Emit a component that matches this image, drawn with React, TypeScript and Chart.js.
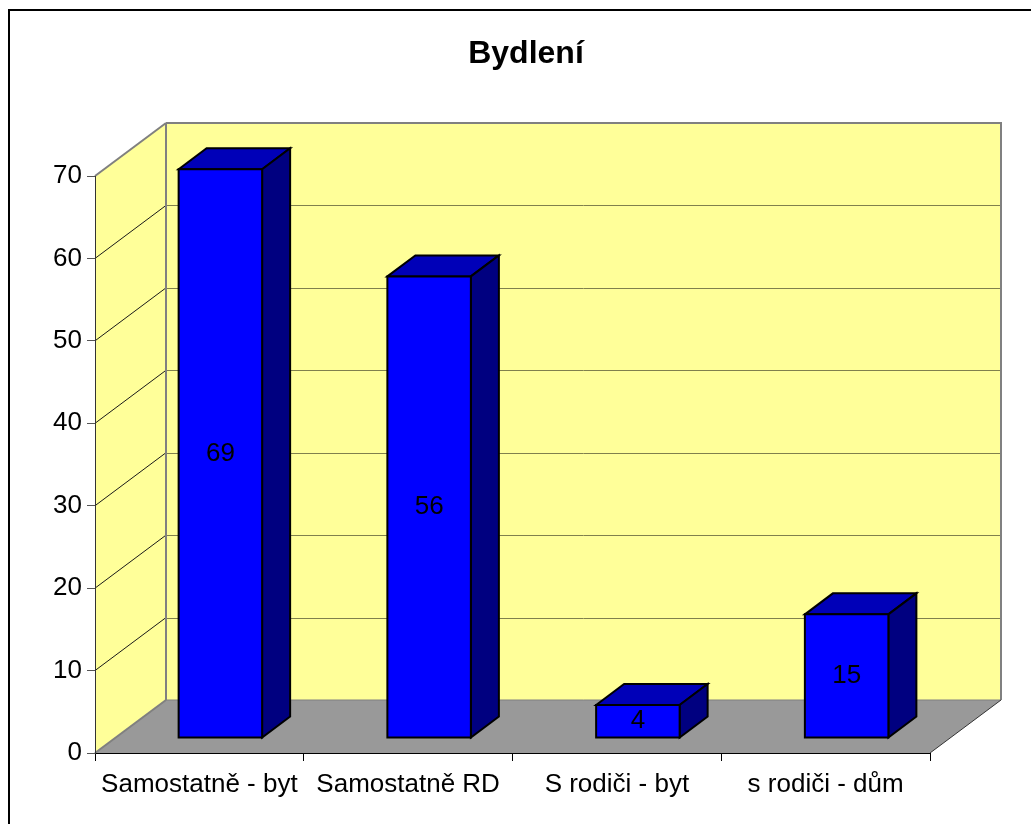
import React, { useEffect, useRef } from 'react';
import { Chart, registerables } from 'chart.js';

Chart.register(...registerables);

const chartTitle = 'Bydlení';
const categories = ['Samostatně - byt', 'Samostatně RD', 'S rodiči - byt', 's rodiči - dům'];
const values = [69, 56, 4, 15];
const yMin = 0;
const yMax = 70;
const yStep = 10;

const FONT = '"Liberation Sans", Arial, sans-serif';
const WALL = '#FFFF99';
const FLOOR = '#999999';
const DX = 71;
const DY = 53;
const BFX = 21;
const BFY = 15;
const BDX = 28;
const BDY = 21;

type P = [number, number];

function poly(ctx: CanvasRenderingContext2D, pts: P[], fill: string | null, stroke?: string, lw = 1) {
  ctx.beginPath();
  ctx.moveTo(pts[0][0], pts[0][1]);
  for (let i = 1; i < pts.length; i++) ctx.lineTo(pts[i][0], pts[i][1]);
  ctx.closePath();
  if (fill) {
    ctx.fillStyle = fill;
    ctx.fill();
  }
  if (stroke) {
    ctx.strokeStyle = stroke;
    ctx.lineWidth = lw;
    ctx.lineJoin = 'miter';
    ctx.stroke();
  }
}

function seg(ctx: CanvasRenderingContext2D, x1: number, y1: number, x2: number, y2: number, color: string, lw = 1) {
  ctx.beginPath();
  ctx.moveTo(x1, y1);
  ctx.lineTo(x2, y2);
  ctx.strokeStyle = color;
  ctx.lineWidth = lw;
  ctx.stroke();
}

const scene3d = {
  id: 'scene3d',
  beforeDraw(chart: any) {
    const { ctx, chartArea } = chart;
    const ys = chart.scales.y;
    const xL = chartArea.left;
    const xR = chartArea.right;
    const y0 = ys.getPixelForValue(yMin);
    const yT = ys.getPixelForValue(yMax);
    ctx.save();
    // floor
    poly(ctx, [[xL, y0], [xR, y0], [xR + DX, y0 - DY], [xL + DX, y0 - DY]], FLOOR);
    // back wall
    poly(ctx, [[xL + DX, yT - DY], [xR + DX, yT - DY], [xR + DX, y0 - DY], [xL + DX, y0 - DY]], WALL);
    // left wall
    poly(ctx, [[xL, y0], [xL, yT], [xL + DX, yT - DY], [xL + DX, y0 - DY]], WALL);
    // gridlines
    for (let v = yMin + yStep; v < yMax; v += yStep) {
      const py = ys.getPixelForValue(v);
      const by = Math.round(py - DY) + 0.5;
      seg(ctx, xL + DX, by, xR + DX, by, '#80804D', 1);
      seg(ctx, xL, py, xL + DX, py - DY, '#1a1a1a', 1);
    }
    // edges
    const gray = '#808080';
    seg(ctx, xL + DX, yT - DY, xR + DX + 1, yT - DY, gray, 2);
    seg(ctx, xR + DX, yT - DY, xR + DX, y0 - DY, gray, 2);
    seg(ctx, xL + DX, yT - DY, xL + DX, y0 - DY, gray, 2);
    seg(ctx, xL, yT, xL + DX, yT - DY, gray, 2);
    seg(ctx, xL, y0, xL + DX, y0 - DY, gray, 2);
    seg(ctx, xL + DX, y0 - DY, xR + DX, y0 - DY, gray, 1);
    seg(ctx, xR, y0, xR + DX, y0 - DY, '#333333', 1);
    ctx.restore();
  },
  afterDatasetsDraw(chart: any) {
    const { ctx } = chart;
    const meta = chart.getDatasetMeta(0);
    ctx.save();
    meta.data.forEach((el: any, i: number) => {
      const { x, y, base, width } = el.getProps(['x', 'y', 'base', 'width'], true);
      const l = x - width / 2 + BFX;
      const r = x + width / 2 + BFX;
      const t = y - BFY;
      const b = base - BFY;
      // top
      poly(ctx, [[l, t], [l + BDX, t - BDY], [r + BDX, t - BDY], [r, t]], '#0000B8', '#000000', 2);
      // side
      poly(ctx, [[r, t], [r + BDX, t - BDY], [r + BDX, b - BDY], [r, b]], '#000080', '#000000', 2);
      // front
      poly(ctx, [[l, t], [r, t], [r, b], [l, b]], '#0000FF', '#000000', 2);
      ctx.fillStyle = '#000000';
      ctx.font = '26px ' + FONT;
      ctx.textAlign = 'center';
      ctx.textBaseline = 'middle';
      ctx.fillText(String(values[i]), (l + r) / 2, (t + b) / 2);
    });
    ctx.restore();
  },
};

export default function App() {
  const ref = useRef<HTMLCanvasElement>(null);
  useEffect(() => {
    if (!ref.current) return;
    const chart = new Chart(ref.current, {
      type: 'bar',
      data: {
        labels: categories,
        datasets: [
          {
            data: values,
            backgroundColor: 'rgba(0,0,0,0)',
            borderWidth: 0,
            categoryPercentage: 1,
            barPercentage: 0.4,
          },
        ],
      },
      options: {
        animation: false,
        responsive: true,
        maintainAspectRatio: false,
        layout: { padding: { left: 21, right: 0, top: 0, bottom: 0 } },
        plugins: {
          legend: { display: false },
          tooltip: { enabled: false },
          title: {
            display: true,
            text: chartTitle,
            color: '#000000',
            font: { family: FONT, size: 32, weight: 'bold', lineHeight: 1.2 },
            padding: { top: 35.1, bottom: 102.5 },
          },
        },
        scales: {
          x: {
            type: 'category',
            grid: { display: true, drawOnChartArea: false, drawTicks: true, tickLength: 8, color: '#000000', offset: true },
            border: { display: true, color: '#000000', width: 1 },
            ticks: {
              color: '#000000',
              font: { family: FONT, size: 26 },
              padding: 8,
              maxRotation: 0,
              minRotation: 0,
              autoSkip: false,
            },
            afterFit: (s: any) => {
              s.height = 71;
            },
          },
          y: {
            type: 'linear',
            position: 'left',
            min: yMin,
            max: yMax,
            grid: { display: true, drawOnChartArea: false, drawTicks: true, tickLength: 8, color: '#555555' },
            border: { display: true, color: '#333333', width: 1 },
            ticks: {
              stepSize: yStep,
              color: '#000000',
              font: { family: FONT, size: 26 },
              padding: 5,
            },
            afterFit: (s: any) => {
              s.width = 74;
            },
          },
          y2: {
            type: 'linear',
            position: 'right',
            display: true,
            grid: { display: false },
            border: { display: false },
            ticks: { display: false },
            afterFit: (s: any) => {
              s.width = 101;
            },
          },
        },
      },
      plugins: [scene3d],
    });
    return () => chart.destroy();
  }, []);

  return (
    <div style={{ position: 'fixed', left: 0, top: 0, width: 1031, height: 824, overflow: 'hidden', background: '#ffffff' }}>
      <div
        style={{
          position: 'absolute',
          left: 8,
          top: 9,
          width: 1200,
          height: 1000,
          borderLeft: '2px solid #000000',
          borderTop: '2px solid #000000',
        }}
      />
      <div style={{ position: 'absolute', left: 0, top: 0, width: 1031, height: 824 }}>
        <canvas ref={ref} />
      </div>
    </div>
  );
}
